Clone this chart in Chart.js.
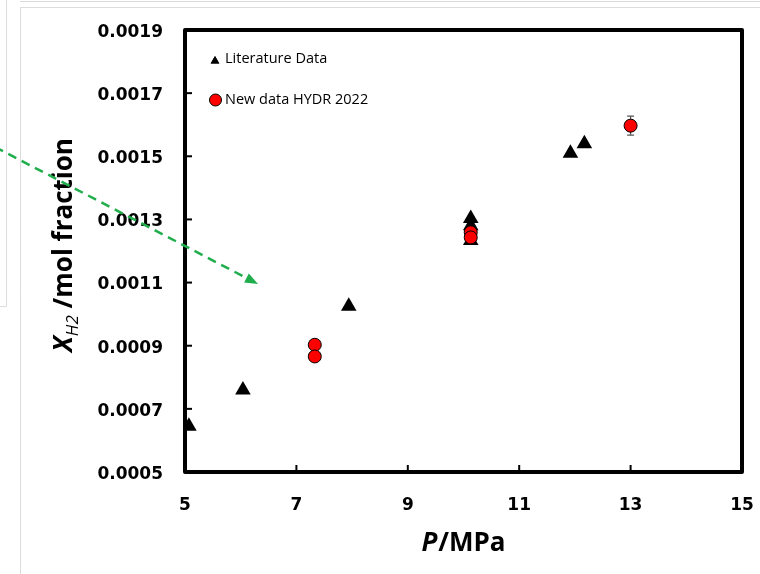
<!DOCTYPE html>
<html>
<head>
<meta charset="utf-8">
<script src="https://cdn.jsdelivr.net/npm/chart.js@4.4.0/dist/chart.umd.min.js"></script>
<style>
  html, body { margin: 0; padding: 0; background: #fff; }
</style>
</head>
<body>
<canvas id="chart" width="760" height="574"></canvas>
<script>
// literature data (triangles)
const litP = [5.07, 6.04, 7.94, 10.13, 10.13, 10.13, 11.92, 12.17];
const litX = [0.000645, 0.00076, 0.001025, 0.001303, 0.00128, 0.001233, 0.00151, 0.00154];
// new data HYDR 2022 (red circles)
const newP = [7.33, 7.33, 10.13, 10.13, 13.0];
const newX = [0.000903, 0.000866, 0.001259, 0.001243, 0.001597];
const newErr = [0, 0, 0, 0, 0.00003];
const legendLabels = ["Literature Data", "New data HYDR 2022"];
const xMin = 5, xMax = 15, xStep = 2;
const yMin = 0.0005, yMax = 0.0019, yStep = 0.0002;

const tickFont = { family: "DejaVu Sans", size: 17, weight: "bold" };
const titleFam = "'Open Sans'";

const toPts = (xs, ys) => xs.map((x, i) => ({ x: x, y: ys[i] }));

const decor = {
  id: "decor",
  beforeDraw(chart) {
    const ctx = chart.ctx;
    ctx.save();
    ctx.strokeStyle = "#dcdcdc";
    ctx.lineWidth = 1;
    ctx.beginPath();
    ctx.moveTo(20, 1.5); ctx.lineTo(760, 1.5);
    ctx.moveTo(20, 7.5); ctx.lineTo(760, 7.5);
    ctx.moveTo(20.5, 7.5); ctx.lineTo(20.5, 574);
    ctx.moveTo(6.5, 0); ctx.lineTo(6.5, 306.5);
    ctx.moveTo(0, 306.5); ctx.lineTo(6.5, 306.5);
    ctx.stroke();
    ctx.restore();
  },
  beforeDatasetsDraw(chart) {
    const ctx = chart.ctx;
    const xs = chart.scales.x, ys = chart.scales.y;
    ctx.save();
    ctx.strokeStyle = "#555";
    ctx.lineWidth = 1.2;
    newP.forEach((p, i) => {
      if (!newErr[i]) return;
      const px = xs.getPixelForValue(p);
      const y1 = ys.getPixelForValue(newX[i] + newErr[i]);
      const y2 = ys.getPixelForValue(newX[i] - newErr[i]);
      ctx.beginPath();
      ctx.moveTo(px, y1); ctx.lineTo(px, y2);
      ctx.moveTo(px - 3.5, y1); ctx.lineTo(px + 3.5, y1);
      ctx.moveTo(px - 3.5, y2); ctx.lineTo(px + 3.5, y2);
      ctx.stroke();
    });
    ctx.restore();
  },
  afterDraw(chart) {
    const ctx = chart.ctx;
    const a = chart.chartArea;
    const xs = chart.scales.x, ys = chart.scales.y;
    ctx.save();
    // frame
    ctx.strokeStyle = "#000";
    ctx.lineWidth = 4;
    ctx.lineJoin = "round";
    ctx.strokeRect(a.left, a.top, a.right - a.left, a.bottom - a.top);
    // inward ticks
    ctx.lineWidth = 2;
    ys.ticks.forEach(t => {
      const py = ys.getPixelForValue(t.value);
      ctx.beginPath(); ctx.moveTo(a.left, py); ctx.lineTo(a.left + 7, py); ctx.stroke();
    });
    xs.ticks.forEach(t => {
      const px = xs.getPixelForValue(t.value);
      ctx.beginPath(); ctx.moveTo(px, a.bottom); ctx.lineTo(px, a.bottom - 7); ctx.stroke();
    });

    // legend
    Chart.helpers.drawPoint(ctx, { pointStyle: "triangle", radius: 5, borderWidth: 0 }, 215, 61);
    ctx.fillStyle = "#000"; ctx.fill();
    ctx.fillStyle = "#ff0000"; ctx.strokeStyle = "#000"; ctx.lineWidth = 1;
    ctx.beginPath(); ctx.arc(215.5, 100, 6, 0, Math.PI * 2); ctx.fill(); ctx.stroke();
    ctx.fillStyle = "#000";
    ctx.font = "14.5px 'Open Sans'";
    ctx.textBaseline = "middle";
    ctx.textAlign = "left";
    ctx.fillText(legendLabels[0], 225, 59);
    ctx.fillText(legendLabels[1], 225, 100);

    // x title: P/MPa
    ctx.textBaseline = "alphabetic";
    const big = "bold 26px " + titleFam, bigI = "italic bold 26px " + titleFam;
    ctx.font = bigI; const wP = ctx.measureText("P").width;
    ctx.font = big; const wR = ctx.measureText("/MPa").width;
    let sx = 463 - (wP + wR) / 2;
    ctx.font = bigI; ctx.fillText("P", sx, 551);
    ctx.font = big; ctx.fillText("/MPa", sx + wP + 1, 551);

    // y title: X_H2 /mol fraction
    const subF = "italic 17px " + titleFam;
    ctx.font = bigI; const wX = ctx.measureText("X").width;
    ctx.font = subF; const wS = ctx.measureText("H2").width;
    ctx.font = big; const wT = ctx.measureText(" /mol fraction").width;
    const tot = wX + wS + wT;
    ctx.translate(72, 245 + tot / 2);
    ctx.rotate(-Math.PI / 2);
    ctx.font = bigI; ctx.fillText("X", 0, 0);
    ctx.font = subF; ctx.fillText("H2", wX, 6);
    ctx.font = big; ctx.fillText(" /mol fraction", wX + wS, 0);
    ctx.setTransform(1, 0, 0, 1, 0, 0);

    // green dashed arrow
    const x0 = -5, y0 = 147, x1 = 258, y1 = 284;
    const ang = Math.atan2(y1 - y0, x1 - x0);
    ctx.strokeStyle = "#1fae4b";
    ctx.fillStyle = "#1fae4b";
    ctx.lineWidth = 2.5;
    ctx.setLineDash([9, 6]);
    ctx.beginPath();
    ctx.moveTo(x0, y0);
    ctx.lineTo(x1 - 10 * Math.cos(ang), y1 - 10 * Math.sin(ang));
    ctx.stroke();
    ctx.setLineDash([]);
    ctx.beginPath();
    ctx.moveTo(x1, y1);
    ctx.lineTo(x1 - 13 * Math.cos(ang) + 5 * Math.sin(ang), y1 - 13 * Math.sin(ang) - 5 * Math.cos(ang));
    ctx.lineTo(x1 - 13 * Math.cos(ang) - 5 * Math.sin(ang), y1 - 13 * Math.sin(ang) + 5 * Math.cos(ang));
    ctx.closePath();
    ctx.fill();
    ctx.restore();
  }
};

new Chart(document.getElementById("chart"), {
  type: "scatter",
  data: {
    datasets: [
      {
        label: legendLabels[0],
        data: toPts(litP, litX),
        order: 1,
        pointStyle: "triangle",
        pointRadius: 9,
        backgroundColor: "#000",
        borderColor: "#000",
        borderWidth: 0
      },
      {
        label: legendLabels[1],
        data: toPts(newP, newX),
        order: 0,
        pointStyle: "circle",
        pointRadius: 6.5,
        backgroundColor: "#ff0000",
        borderColor: "#000",
        borderWidth: 1
      }
    ]
  },
  options: {
    responsive: false,
    animation: false,
    devicePixelRatio: 1,
    layout: { padding: { left: 0, top: 30, right: 18, bottom: 0 } },
    plugins: { legend: { display: false }, tooltip: { enabled: false } },
    scales: {
      x: {
        type: "linear",
        min: xMin, max: xMax,
        grid: { display: false, drawTicks: false },
        border: { display: false },
        ticks: { stepSize: xStep, padding: 23, color: "#000", font: tickFont },
        afterFit(s) { s.height = 102; s.paddingLeft = 0; s.paddingRight = 0; }
      },
      y: {
        type: "linear",
        min: yMin, max: yMax,
        grid: { display: false, drawTicks: false },
        border: { display: false },
        ticks: {
          stepSize: yStep, padding: 22, labelOffset: 2.5, color: "#000", font: tickFont,
          callback: v => v.toFixed(4)
        },
        afterFit(s) { s.width = 185; s.paddingTop = 0; s.paddingBottom = 0; }
      }
    }
  },
  plugins: [decor]
});
</script>
</body>
</html>
